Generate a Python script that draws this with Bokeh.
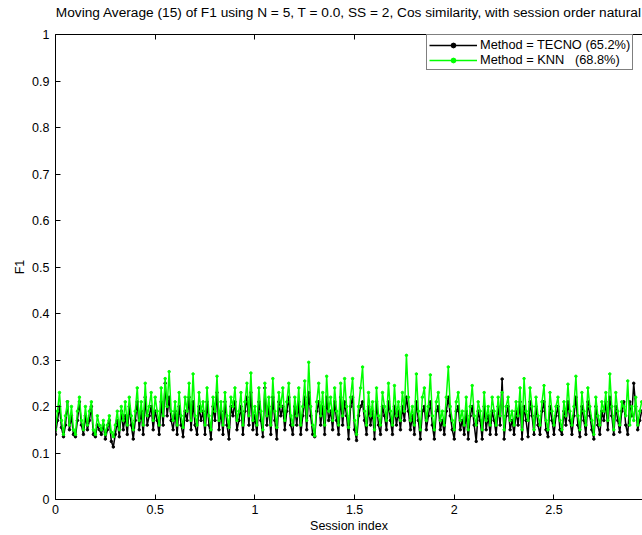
from bokeh.plotting import figure
from bokeh.models import FixedTicker, Range1d, LinearAxis, Label, Legend, LegendItem
from bokeh.embed import file_html
from bokeh.resources import INLINE

title_text = "Moving Average (15) of F1 using N = 5, T = 0.0, SS = 2, Cos similarity, with session order natural"
x_label = "Session index"
y_label = "F1"
label_tecno = "Method = TECNO (65.2%)"
label_knn = "Method = KNN\u00a0\u00a0\u00a0(68.8%)"

session_index = list(range(0, 29500, 100))

knn_f1 = [
    0.15, 0.19, 0.23, 0.17, 0.14, 0.18, 0.21, 0.16, 0.20, 0.15, 0.14, 0.19, 0.22, 0.17, 0.15, 0.20, 0.16, 0.19, 0.21, 0.15,
    0.14, 0.18, 0.16, 0.15, 0.17, 0.14, 0.16, 0.18, 0.145, 0.135, 0.16, 0.19, 0.15, 0.20, 0.17, 0.21, 0.16, 0.22, 0.18, 0.15,
    0.19, 0.24, 0.17, 0.21, 0.16, 0.25, 0.18, 0.20, 0.23, 0.17, 0.22, 0.19, 0.16, 0.24, 0.18, 0.26, 0.20, 0.275, 0.19, 0.17,
    0.21, 0.16, 0.23, 0.18, 0.155, 0.22, 0.19, 0.25, 0.17, 0.27, 0.18, 0.16, 0.23, 0.19, 0.21, 0.16, 0.24, 0.18, 0.15, 0.22,
    0.19, 0.265, 0.17, 0.21, 0.16, 0.23, 0.18, 0.155, 0.22, 0.20, 0.24, 0.17, 0.19, 0.23, 0.16, 0.21, 0.25, 0.18, 0.272, 0.17,
    0.20, 0.16, 0.24, 0.19, 0.15, 0.25, 0.18, 0.22, 0.16, 0.26, 0.19, 0.155, 0.23, 0.20, 0.24, 0.17, 0.21, 0.25, 0.18, 0.16,
    0.22, 0.18, 0.24, 0.16, 0.20, 0.255, 0.17, 0.295, 0.20, 0.16, 0.137, 0.21, 0.25, 0.18, 0.23, 0.16, 0.265, 0.19, 0.22, 0.17,
    0.24, 0.19, 0.16, 0.25, 0.18, 0.26, 0.20, 0.155, 0.22, 0.26, 0.17, 0.14, 0.20, 0.24, 0.285, 0.19, 0.16, 0.23, 0.18, 0.21,
    0.15, 0.24, 0.18, 0.16, 0.23, 0.20, 0.17, 0.25, 0.19, 0.16, 0.245, 0.18, 0.21, 0.17, 0.23, 0.19, 0.31, 0.22, 0.17, 0.20,
    0.16, 0.27, 0.19, 0.15, 0.22, 0.24, 0.17, 0.20, 0.268, 0.18, 0.15, 0.21, 0.23, 0.17, 0.19, 0.16, 0.22, 0.285, 0.20, 0.17,
    0.15, 0.21, 0.23, 0.17, 0.19, 0.16, 0.22, 0.15, 0.20, 0.245, 0.18, 0.16, 0.21, 0.19, 0.15, 0.23, 0.17, 0.20, 0.16, 0.22,
    0.19, 0.16, 0.22, 0.18, 0.23, 0.15, 0.20, 0.22, 0.17, 0.19, 0.16, 0.21, 0.18, 0.24, 0.15, 0.26, 0.19, 0.17, 0.24, 0.20,
    0.15, 0.22, 0.18, 0.16, 0.21, 0.245, 0.17, 0.15, 0.23, 0.19, 0.16, 0.20, 0.22, 0.17, 0.15, 0.21, 0.18, 0.248, 0.19, 0.16,
    0.20, 0.265, 0.18, 0.15, 0.23, 0.19, 0.16, 0.24, 0.20, 0.17, 0.14, 0.22, 0.18, 0.16, 0.21, 0.19, 0.23, 0.17, 0.27, 0.20,
    0.15, 0.23, 0.19, 0.16, 0.21, 0.20, 0.18, 0.255, 0.16, 0.20, 0.17, 0.22, 0.16, 0.19, 0.21,
]

tecno_f1 = [
    0.14, 0.17, 0.20, 0.155, 0.135, 0.16, 0.21, 0.15, 0.18, 0.14, 0.135, 0.17, 0.21, 0.16, 0.14, 0.18, 0.15, 0.17, 0.20, 0.14,
    0.135, 0.16, 0.15, 0.14, 0.16, 0.13, 0.15, 0.17, 0.125, 0.113, 0.14, 0.17, 0.135, 0.19, 0.15, 0.18, 0.14, 0.20, 0.16, 0.13,
    0.17, 0.21, 0.15, 0.19, 0.14, 0.22, 0.16, 0.18, 0.20, 0.15, 0.19, 0.17, 0.14, 0.21, 0.16, 0.25, 0.18, 0.22, 0.17, 0.15,
    0.19, 0.14, 0.20, 0.16, 0.135, 0.19, 0.17, 0.22, 0.15, 0.21, 0.16, 0.14, 0.20, 0.17, 0.19, 0.14, 0.21, 0.16, 0.13, 0.20,
    0.17, 0.23, 0.15, 0.19, 0.14, 0.21, 0.16, 0.13, 0.20, 0.18, 0.21, 0.15, 0.17, 0.20, 0.14, 0.19, 0.22, 0.16, 0.23, 0.15,
    0.18, 0.14, 0.21, 0.17, 0.135, 0.24, 0.16, 0.20, 0.14, 0.22, 0.17, 0.13, 0.21, 0.18, 0.20, 0.15, 0.19, 0.22, 0.16, 0.14,
    0.20, 0.16, 0.21, 0.14, 0.18, 0.22, 0.15, 0.23, 0.18, 0.14, 0.135, 0.19, 0.21, 0.16, 0.20, 0.14, 0.22, 0.17, 0.19, 0.15,
    0.21, 0.17, 0.14, 0.22, 0.16, 0.21, 0.18, 0.13, 0.20, 0.22, 0.15, 0.127, 0.18, 0.20, 0.21, 0.17, 0.14, 0.20, 0.16, 0.19,
    0.13, 0.21, 0.16, 0.14, 0.20, 0.18, 0.15, 0.21, 0.17, 0.14, 0.20, 0.16, 0.19, 0.15, 0.20, 0.17, 0.22, 0.19, 0.15, 0.18,
    0.14, 0.21, 0.17, 0.13, 0.19, 0.20, 0.15, 0.18, 0.21, 0.16, 0.13, 0.19, 0.20, 0.15, 0.17, 0.14, 0.19, 0.22, 0.18, 0.15,
    0.13, 0.19, 0.20, 0.15, 0.17, 0.14, 0.19, 0.13, 0.18, 0.20, 0.16, 0.125, 0.19, 0.17, 0.13, 0.20, 0.15, 0.18, 0.14, 0.19,
    0.17, 0.14, 0.20, 0.16, 0.259, 0.13, 0.18, 0.20, 0.15, 0.17, 0.14, 0.19, 0.16, 0.21, 0.13, 0.20, 0.17, 0.135, 0.21, 0.18,
    0.14, 0.20, 0.16, 0.14, 0.19, 0.21, 0.15, 0.135, 0.20, 0.17, 0.14, 0.18, 0.20, 0.15, 0.14, 0.19, 0.16, 0.21, 0.17, 0.14,
    0.18, 0.22, 0.16, 0.135, 0.20, 0.17, 0.14, 0.21, 0.18, 0.15, 0.13, 0.20, 0.16, 0.14, 0.19, 0.17, 0.21, 0.15, 0.22, 0.18,
    0.14, 0.20, 0.17, 0.145, 0.19, 0.21, 0.16, 0.14, 0.21, 0.18, 0.25, 0.20, 0.15, 0.17, 0.19,
]

x_ticks = [0, 5000, 10000, 15000, 20000, 25000]
x_tick_labels = ["0", "0.5", "1", "1.5", "2", "2.5"]
y_ticks = [0, 0.1, 0.2, 0.3, 0.4, 0.5, 0.6, 0.7, 0.8, 0.9, 1]
y_tick_labels = ["0", "0.1", "0.2", "0.3", "0.4", "0.5", "0.6", "0.7", "0.8", "0.9", "1"]
x_exponent_label = "x 10\u2074"

FONT = "Liberation Sans"

p = figure(width=642, height=535, output_backend="svg", toolbar_location=None,
           x_range=Range1d(0, 29440), y_range=Range1d(0, 1),
           min_border_left=55, min_border_right=0, min_border_top=34, min_border_bottom=34)
p.outline_line_color = None
p.xgrid.visible = False
p.ygrid.visible = False
p.background_fill_color = "white"
p.border_fill_color = "white"

for ax in (p.xaxis[0], p.yaxis[0]):
    ax.major_tick_in = 5
    ax.major_tick_out = 0
    ax.minor_tick_line_color = None
    ax.axis_line_color = "black"
    ax.major_tick_line_color = "black"
    ax.major_label_text_font = FONT
    ax.major_label_text_font_size = "12.5px"
    ax.major_label_text_color = "black"
    ax.axis_label_text_font = FONT
    ax.axis_label_text_font_size = "12.5px"
    ax.axis_label_text_font_style = "normal"
    ax.axis_label_text_color = "black"

p.xaxis[0].ticker = FixedTicker(ticks=x_ticks)
p.xaxis[0].major_label_overrides = dict(zip(x_ticks, x_tick_labels))
p.xaxis[0].major_label_standoff = 5
p.xaxis[0].axis_label = x_label
p.xaxis[0].axis_label_standoff = 2

p.yaxis[0].ticker = FixedTicker(ticks=y_ticks)
p.yaxis[0].major_label_overrides = dict(zip(y_ticks, y_tick_labels))
p.yaxis[0].major_label_standoff = 6
p.yaxis[0].axis_label = y_label
p.yaxis[0].axis_label_standoff = 2

# top box edge with inward ticks; carries the title as its label
top = LinearAxis(ticker=FixedTicker(ticks=x_ticks))
top.major_tick_in = 5
top.major_tick_out = 0
top.minor_tick_line_color = None
top.major_label_overrides = {t: "" for t in x_ticks}
top.major_label_standoff = 0
top.axis_line_color = "black"
top.major_tick_line_color = "black"
top.axis_label = title_text
top.axis_label_text_font = FONT
top.axis_label_text_font_size = "13.7px"
top.axis_label_text_font_style = "normal"
top.axis_label_text_color = "black"
top.axis_label_standoff = 15
p.add_layout(top, "above")

r_t_line = p.line(session_index, tecno_f1, line_color="black", line_width=1.5)
r_t_pts = p.scatter(session_index, tecno_f1, size=2.5, marker="circle", color="black")
r_k_line = p.line(session_index, knn_f1, line_color="#00ff00", line_width=1.5)
r_k_pts = p.scatter(session_index, knn_f1, size=2.5, marker="circle", color="#00ff00")

legend = Legend(items=[
    LegendItem(label=label_tecno, renderers=[r_t_line, r_t_pts]),
    LegendItem(label=label_knn, renderers=[r_k_line, r_k_pts]),
], location=(371, 429))
legend.label_text_font = FONT
legend.label_text_font_size = "12.8px"
legend.label_text_color = "black"
legend.glyph_width = 48
legend.glyph_height = 12
legend.label_height = 12
legend.label_standoff = 3
legend.spacing = 0
legend.padding = 2
legend.margin = 0
legend.border_line_color = "black"
legend.border_line_width = 1
legend.background_fill_color = "white"
legend.background_fill_alpha = 1
p.add_layout(legend, "center")

exp_label = Label(x=28330, y=-0.062, text=x_exponent_label, text_font=FONT,
                  text_font_size="12.5px", text_baseline="top", text_color="black")
p.add_layout(exp_label)

open("out.html", "w").write(file_html(p, INLINE))
